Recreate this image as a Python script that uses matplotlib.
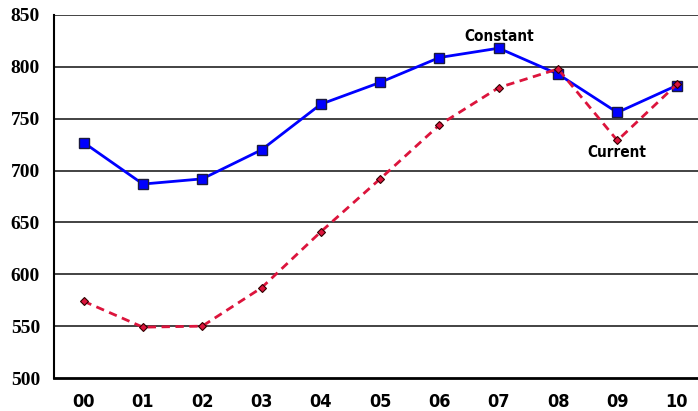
import matplotlib
matplotlib.use("Agg")
import matplotlib.pyplot as plt
from matplotlib import font_manager as fm

years = ["00", "01", "02", "03", "04", "05", "06", "07", "08", "09", "10"]
constant = [727, 687, 692, 720, 764, 785, 809, 818, 793, 756, 782]
current = [574, 549, 550, 587, 641, 692, 744, 780, 798, 729, 783]
yticks = [500, 550, 600, 650, 700, 750, 800, 850]

names = {f.name for f in fm.fontManager.ttflist}
narrow = "Liberation Sans Narrow" if "Liberation Sans Narrow" in names else "DejaVu Sans"
narrow_props = dict(fontfamily=narrow, fontweight="bold", fontstretch="condensed")

fig = plt.figure(figsize=(6.98, 4.11), dpi=100)
ax = fig.add_axes([54/698, 33/411, 644/698, 363/411])
x = list(range(len(years)))

for v in yticks[1:]:
    ax.axhline(v, color="#222222", lw=1.2, zorder=1)

ax.plot(x, constant, color="#0000FF", lw=2, marker="s", ms=7,
        mfc="#0000FF", mec="#1a1a40", mew=1, zorder=3)
ax.plot(x, current, color="#DC143C", lw=2, ls=(0, (3, 2)), marker="D", ms=4,
        mfc="#DC143C", mec="#300000", mew=0.8, zorder=4)

ax.set_xlim(-0.5, 10.36)
ax.set_ylim(500, 850)
ax.set_yticks(yticks)
ax.set_yticklabels([str(v) for v in yticks], fontfamily="Liberation Serif",
                   fontweight="bold", fontsize=14)
ax.set_xticks(x)
ax.set_xticklabels(years, fontsize=13, **narrow_props)
ax.tick_params(axis="both", length=0)
ax.tick_params(axis="x", pad=11)
ax.tick_params(axis="y", pad=10)

for s in ["top", "right"]:
    ax.spines[s].set_visible(False)
ax.spines["left"].set_linewidth(1.5)
ax.spines["bottom"].set_linewidth(2)

ax.text(7, 829, "Constant", ha="center", va="center", fontsize=11, **narrow_props)
ax.text(9, 717, "Current", ha="center", va="center", fontsize=11, **narrow_props)

fig.savefig("out.png", dpi=100)
